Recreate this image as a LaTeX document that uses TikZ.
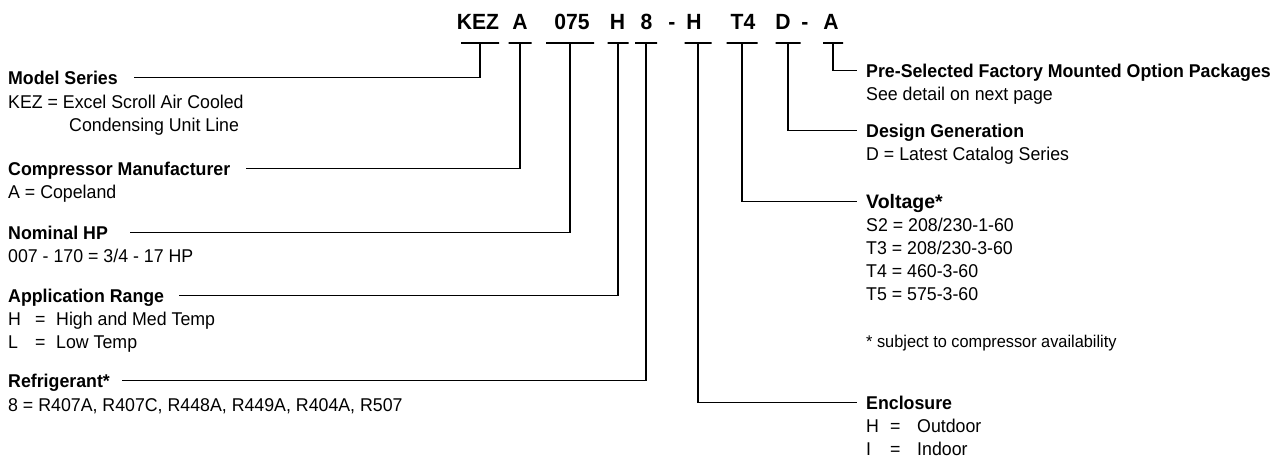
\documentclass[tikz,border=0pt]{standalone}
\usepackage{fontspec}
\setmainfont[FakeStretch=0.96]{Liberation Sans}
\newfontfamily\widefont{Liberation Sans}
\begin{document}
\begin{tikzpicture}[x=1pt,y=-1pt,
  code/.style={font=\fontsize{22}{26}\selectfont\bfseries, inner sep=0pt, anchor=base},
  ttl/.style={font=\fontsize{18.5}{22}\selectfont\bfseries, inner sep=0pt, anchor=base west, text height=13pt, text depth=0pt},
  val/.style={font=\fontsize{18.5}{22}\selectfont, inner sep=0pt, anchor=base west},
  barline/.style={draw, line width=1.2pt, inner sep=0pt, minimum height=0pt},
  lead/.style={line width=1.2pt}]
\useasboundingbox (0,0) rectangle (1281,461);

% code letters
\node[code] (k1) at (478,29) {KEZ};
\node[code] (k2) at (520,29) {A};
\node[code] (k3) at (572,29) {075};
\node[code] (k4) at (617.5,29) {H};
\node[code] (k5) at (646.5,29) {8};
\node[code] (d1) at (672,29) {-};
\node[code] (k6) at (694,29) {H};
\node[code] (k7) at (743,29) {T4};
\node[code] (k8) at (783,29) {D};
\node[code] (d2) at (805,29) {-};
\node[code] (k9) at (831,29) {A};

% bars
\node[barline, minimum width=38pt] (b1) at (480,43) {};
\node[barline, minimum width=23pt] (b2) at (520,43) {};
\node[barline, minimum width=48pt] (b3) at (570,43) {};
\node[barline, minimum width=21pt] (b4) at (618,43) {};
\node[barline, minimum width=22pt] (b5) at (646,43) {};
\node[barline, minimum width=27pt] (b6) at (698,43) {};
\node[barline, minimum width=31pt] (b7) at (742,43) {};
\node[barline, minimum width=25pt] (b8) at (788,43) {};
\node[barline, minimum width=20pt] (b9) at (833,43) {};

% left titles and values
\node[ttl] (ms) at (8,84) {Model Series};
\node[val] (ms1) at (8,108) {KEZ = Excel Scroll Air Cooled};
\node[val] (ms2) at (69,131) {Condensing Unit Line};

\node[ttl] (cm) at (8,175) {Compressor Manufacturer};
\node[val] (cm1) at (8,198) {A = Copeland};

\node[ttl] (hp) at (8,239) {Nominal HP};
\node[val] (hp1) at (8,262) {007 - 170 = 3/4 - 17 HP};

\node[ttl] (ar) at (8,302) {Application Range};
\node[val] (ar1) at (8,325) {\makebox[27pt][l]{H}\makebox[21pt][l]{=}High and Med Temp};
\node[val] (ar2) at (8,348) {\makebox[27pt][l]{L}\makebox[21pt][l]{=}Low Temp};

\node[ttl] (rf) at (8,387) {Refrigerant*};
\node[val] (rf1) at (8,411) {8 = R407A, R407C, R448A, R449A, R404A, R507};

% right titles and values
\node[ttl] (op) at (866,77) {Pre-Selected Factory Mounted Option Packages};
\node[val] (op1) at (866,100) {See detail on next page};

\node[ttl] (dg) at (866,137) {Design Generation};
\node[val] (dg1) at (866,160) {D = Latest Catalog Series};

\node[ttl, font=\fontsize{19.5}{22}\selectfont\widefont\bfseries] (vo) at (866,208) {Voltage*};
\node[val] (vo1) at (866,231) {S2 = 208/230-1-60};
\node[val] (vo2) at (866,254) {T3 = 208/230-3-60};
\node[val] (vo3) at (866,277) {T4 = 460-3-60};
\node[val] (vo4) at (866,300) {T5 = 575-3-60};
\node[val, font=\fontsize{17}{20}\selectfont] (note) at (866,347) {* subject to compressor availability};

\node[ttl] (en) at (866,409) {Enclosure};
\node[val] (en1) at (866,432) {\makebox[24pt][l]{H}\makebox[27pt][l]{=}Outdoor};
\node[val] (en2) at (866,455) {\makebox[24pt][l]{I}\makebox[27pt][l]{=}Indoor};

% leaders
\draw[lead] (b1.center) |- ([xshift=16pt]ms.east);
\draw[lead] (b2.center) |- ([xshift=16pt]cm.east);
\draw[lead] (b3.center) |- ([xshift=22pt]hp.east);
\draw[lead] (b4.center) |- ([xshift=15pt]ar.east);
\draw[lead] (b5.center) |- ([xshift=12pt]rf.east);
\draw[lead] (b6.center) |- ([xshift=-9pt]en.west);
\draw[lead] (b7.center) |- ([xshift=-9pt]vo.west);
\draw[lead] (b8.center) |- ([xshift=-9pt]dg.west);
\draw[lead] (b9.center) |- ([xshift=-9pt]op.west);
\end{tikzpicture}
\end{document}
